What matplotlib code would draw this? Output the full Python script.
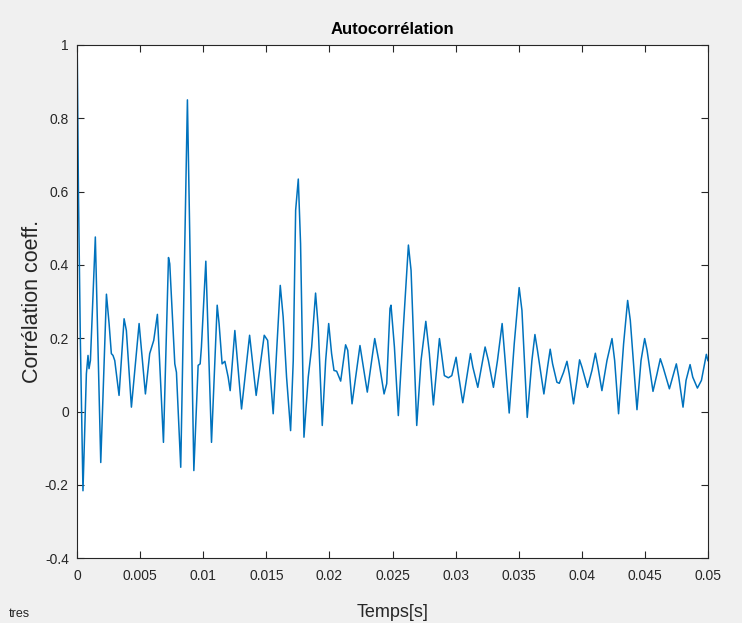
import matplotlib
matplotlib.use('Agg')
import matplotlib.pyplot as plt

# autocorrelation (time in s, coefficient)
temps = [0.0, 0.0001, 0.00025, 0.00046, 0.00073, 0.00086, 0.00094, 0.00105, 0.00144, 0.00187,
         0.00232, 0.00253, 0.00271, 0.00284, 0.00298, 0.00332, 0.00372, 0.0039, 0.0043, 0.00491,
         0.00541, 0.00575, 0.00607, 0.00636, 0.00684, 0.00724, 0.00734, 0.00774, 0.00787, 0.00821,
         0.00874, 0.00925, 0.00959, 0.00975, 0.00985, 0.0102, 0.01065, 0.0111, 0.01125, 0.01149,
         0.01171, 0.01197, 0.01213, 0.0125, 0.01303, 0.01367, 0.01419, 0.01483, 0.0151, 0.01554,
         0.0161, 0.01633, 0.0166, 0.01692, 0.01713, 0.01732, 0.01753, 0.01771, 0.01798, 0.01832,
         0.01859, 0.0189, 0.01911, 0.01943, 0.0197, 0.01994, 0.02017, 0.02036, 0.02057, 0.02089,
         0.02128, 0.02145, 0.02179, 0.02242, 0.023, 0.02359, 0.02391, 0.02433, 0.02454, 0.0248,
         0.02488, 0.02515, 0.02546, 0.02586, 0.02626, 0.02647, 0.02692, 0.02726, 0.02764, 0.02792,
         0.02824, 0.02872, 0.02885, 0.02911, 0.02943, 0.0297, 0.03004, 0.03022, 0.03057, 0.03118,
         0.03137, 0.03176, 0.03234, 0.0326, 0.033, 0.03332, 0.03369, 0.03393, 0.03425, 0.03465,
         0.03504, 0.03526, 0.03568, 0.03605, 0.03629, 0.03649, 0.037, 0.03729, 0.0375, 0.03769,
         0.03803, 0.03822, 0.03856, 0.03883, 0.03901, 0.03935, 0.03962, 0.03983, 0.04002, 0.04046,
         0.04081, 0.04108, 0.04129, 0.0416, 0.042, 0.0424, 0.04261, 0.04292, 0.04332, 0.04364,
         0.04385, 0.04438, 0.0447, 0.04499, 0.04518, 0.04565, 0.04597, 0.04623, 0.04645, 0.04695,
         0.04721, 0.0475, 0.04769, 0.04803, 0.04827, 0.04859, 0.0488, 0.04917, 0.04949, 0.04988,
         0.05]
coeff = [1.0, 0.6, 0.2, -0.216, 0.103, 0.153, 0.117, 0.139, 0.476, -0.139,
         0.32, 0.24, 0.158, 0.153, 0.139, 0.044, 0.253, 0.221, 0.012, 0.24,
         0.048, 0.158, 0.194, 0.265, -0.084, 0.42, 0.403, 0.13, 0.107, -0.152,
         0.85, -0.161, 0.126, 0.13, 0.176, 0.41, -0.084, 0.29, 0.24, 0.13,
         0.137, 0.094, 0.057, 0.221, 0.007, 0.208, 0.044, 0.208, 0.194, -0.006,
         0.344, 0.258, 0.094, -0.052, 0.139, 0.549, 0.634, 0.458, -0.07, 0.094,
         0.176, 0.323, 0.23, -0.038, 0.139, 0.24, 0.158, 0.112, 0.11, 0.083,
         0.182, 0.167, 0.021, 0.18, 0.053, 0.199, 0.139, 0.048, 0.076, 0.281,
         0.29, 0.176, -0.011, 0.23, 0.454, 0.385, -0.038, 0.139, 0.246, 0.158,
         0.018, 0.199, 0.167, 0.098, 0.092, 0.098, 0.148, 0.103, 0.024, 0.158,
         0.121, 0.066, 0.176, 0.139, 0.066, 0.139, 0.24, 0.139, -0.004, 0.185,
         0.338, 0.276, -0.016, 0.139, 0.21, 0.167, 0.048, 0.121, 0.17, 0.13,
         0.08, 0.077, 0.107, 0.137, 0.103, 0.021, 0.085, 0.141, 0.121, 0.066,
         0.112, 0.159, 0.121, 0.057, 0.139, 0.199, 0.139, -0.006, 0.185, 0.303,
         0.249, 0.005, 0.139, 0.199, 0.167, 0.055, 0.103, 0.144, 0.121, 0.062,
         0.094, 0.13, 0.094, 0.012, 0.085, 0.128, 0.094, 0.064, 0.085, 0.156,
         0.139]

xticks = [0, 0.005, 0.01, 0.015, 0.02, 0.025, 0.03, 0.035, 0.04, 0.045, 0.05]
xticklabels = ['0', '0.005', '0.01', '0.015', '0.02', '0.025', '0.03', '0.035', '0.04', '0.045', '0.05']
yticks = [-0.4, -0.2, 0, 0.2, 0.4, 0.6, 0.8, 1]
yticklabels = ['-0.4', '-0.2', '0', '0.2', '0.4', '0.6', '0.8', '1']

plt.rcParams['font.family'] = ['Liberation Sans', 'DejaVu Sans']

fig = plt.figure(figsize=(7.42, 6.23), dpi=100, facecolor='#f0f0f0')
ax = fig.add_axes([0.104, 0.104, 0.850, 0.824])

ax.plot(temps, coeff, color='#0072BD', linewidth=1.1)

ax.set_xlim(0, 0.05)
ax.set_ylim(-0.4, 1)
ax.set_xticks(xticks)
ax.set_xticklabels(xticklabels)
ax.set_yticks(yticks)
ax.set_yticklabels(yticklabels)
ax.tick_params(direction='in', top=True, right=True, length=5, width=0.8,
               labelsize=10, colors='#262626')
ax.tick_params(axis='x', pad=8)
ax.tick_params(axis='y', pad=6)
for s in ax.spines.values():
    s.set_color('#262626')
    s.set_linewidth(0.8)

ax.set_title('Autocorrélation', fontsize=12, fontweight='bold', color='#000000', pad=8)
ax.set_xlabel('Temps[s]', fontsize=13, color='#262626', labelpad=15)
ax.set_ylabel('Corrélation coeff.', fontsize=15.5, color='#262626', labelpad=1)

fig.text(0.012, 0.01, 'tres', fontsize=9, color='#262626')

fig.savefig('out.png', dpi=100, facecolor=fig.get_facecolor())
